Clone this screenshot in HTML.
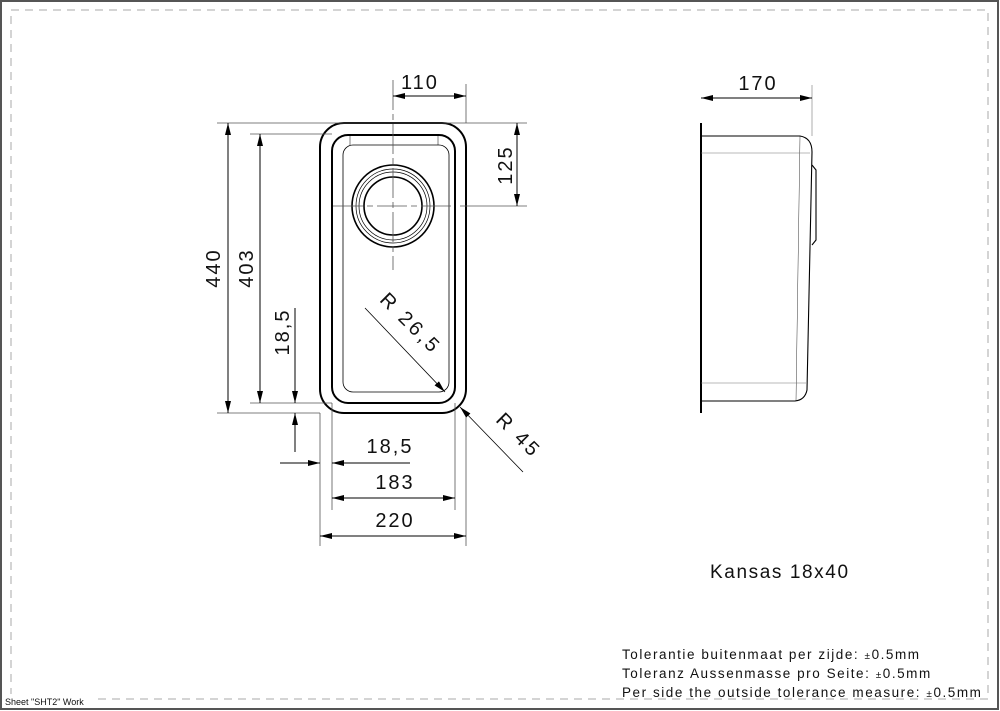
<!DOCTYPE html>
<html><head><meta charset="utf-8"><style>
html,body{margin:0;padding:0;background:#fff;}
svg{display:block;}
text{font-family:"Liberation Sans",sans-serif;fill:#111;}
</style></head><body>
<svg width="1000" height="711" viewBox="0 0 1000 711" xmlns="http://www.w3.org/2000/svg">
<defs>
<marker id="a" viewBox="0 0 12 6" refX="12" refY="3" markerWidth="12" markerHeight="6" orient="auto-start-reverse" markerUnits="userSpaceOnUse"><path d="M0,0 L12,3 L0,6 z" fill="#000"/></marker>
</defs>
<rect x="1" y="1" width="997" height="708" fill="none" stroke="#555" stroke-width="2"/>
<rect x="11" y="10" width="977" height="689" fill="none" stroke="#aaa" stroke-width="1" stroke-dasharray="8,6"/>
<rect x="4" y="694" width="92" height="12" fill="#fff"/>
<text x="5" y="705" font-size="9">Sheet "SHT2" Work</text>

<g fill="none" stroke="#000">
<rect x="320" y="123" width="146" height="290" rx="24" stroke-width="2"/>
<rect x="332" y="135" width="123" height="268" rx="16" stroke-width="2"/>
<rect x="343" y="145" width="106" height="247" rx="10" stroke-width="0.8"/>
<line x1="350" y1="135" x2="350" y2="145" stroke-width="0.5"/>
<line x1="438" y1="135" x2="438" y2="145" stroke-width="0.5"/>
<circle cx="393" cy="206" r="41" stroke-width="1.6"/>
<circle cx="393" cy="206" r="37" stroke-width="0.7"/>
<circle cx="393" cy="206" r="34" stroke-width="0.7"/>
<circle cx="393" cy="206" r="29" stroke-width="1.6"/>
</g>
<g stroke="#555" stroke-width="0.8" fill="none">
<line x1="393" y1="80" x2="393" y2="270" stroke-dasharray="30,4,6,4"/>
<line x1="333" y1="206" x2="455" y2="206" stroke-dasharray="30,4,6,4"/>
<line x1="466" y1="84" x2="466" y2="123"/>
<line x1="460" y1="206" x2="527" y2="206"/>
<line x1="217" y1="123" x2="527" y2="123"/>
<line x1="217" y1="413" x2="320" y2="413"/>
<line x1="250" y1="134" x2="332" y2="134"/>
<line x1="250" y1="403" x2="332" y2="403"/>
<line x1="320" y1="413" x2="320" y2="546"/>
<line x1="332" y1="403" x2="332" y2="510"/>
<line x1="455" y1="403" x2="455" y2="510"/>
<line x1="466" y1="413" x2="466" y2="546"/>
</g>
<g stroke="#000" stroke-width="1" fill="none">
<line x1="393" y1="96" x2="466" y2="96" marker-start="url(#a)" marker-end="url(#a)"/>
<line x1="517" y1="123" x2="517" y2="206" marker-start="url(#a)" marker-end="url(#a)"/>
<line x1="228" y1="123" x2="228" y2="413" marker-start="url(#a)" marker-end="url(#a)"/>
<line x1="260" y1="134" x2="260" y2="403" marker-start="url(#a)" marker-end="url(#a)"/>
<line x1="295" y1="308" x2="295" y2="403" marker-end="url(#a)"/>
<line x1="295" y1="452" x2="295" y2="413" marker-end="url(#a)"/>
<line x1="280" y1="463" x2="320" y2="463" marker-end="url(#a)"/>
<line x1="410" y1="463" x2="332" y2="463" marker-end="url(#a)"/>
<line x1="332" y1="498" x2="455" y2="498" marker-start="url(#a)" marker-end="url(#a)"/>
<line x1="320" y1="536" x2="466" y2="536" marker-start="url(#a)" marker-end="url(#a)"/>
<line x1="365" y1="308" x2="445" y2="392" stroke-width="0.8" marker-end="url(#a)"/>
<line x1="523" y1="472" x2="460" y2="407" stroke-width="0.8" marker-end="url(#a)"/>
</g>
<g font-size="20" letter-spacing="2">
<text x="420" y="89" text-anchor="middle">110</text>
<text transform="translate(512,165) rotate(-90)" text-anchor="middle">125</text>
<text transform="translate(220,268) rotate(-90)" text-anchor="middle">440</text>
<text transform="translate(253,268) rotate(-90)" text-anchor="middle">403</text>
<text transform="translate(289,332) rotate(-90)" text-anchor="middle">18,5</text>
<text x="390" y="453" text-anchor="middle">18,5</text>
<text x="395" y="489" text-anchor="middle">183</text>
<text x="395" y="527" text-anchor="middle">220</text>
<text transform="translate(406,328) rotate(45)" text-anchor="middle" letter-spacing="3">R 26,5</text>
<text transform="translate(514,440) rotate(45)" text-anchor="middle" letter-spacing="3">R 45</text>
<text x="758" y="90" text-anchor="middle">170</text>
</g>

<g stroke="#000" fill="none">
<line x1="701" y1="123" x2="701" y2="413" stroke-width="2"/>
<path d="M701,136 L800,136 Q812,138 812,152 L807,390 Q805,400 795,401 L701,401" stroke-width="1.1"/>
<path d="M812,165 L816,170 L816,240 L812,245" stroke-width="1.1"/>
<line x1="800" y1="136" x2="796" y2="401" stroke-width="0.4"/>
</g>
<g stroke="#777" stroke-width="0.6">
<line x1="701" y1="153" x2="810" y2="153"/>
<line x1="701" y1="383" x2="806" y2="383"/>
<line x1="812" y1="85" x2="812" y2="136"/>
</g>
<line x1="701" y1="98" x2="812" y2="98" stroke="#000" stroke-width="1" marker-start="url(#a)" marker-end="url(#a)"/>

<text x="710" y="578" font-size="19" letter-spacing="1.6">Kansas 18x40</text>
<g font-size="13.5" letter-spacing="1.55">
<text x="622" y="659">Tolerantie buitenmaat per zijde: <tspan font-size="10">±</tspan>0.5mm</text>
<text x="622" y="678">Toleranz Aussenmasse pro Seite: <tspan font-size="10">±</tspan>0.5mm</text>
<text x="622" y="697">Per side the outside tolerance measure: <tspan font-size="10">±</tspan>0.5mm</text>
</g>
</svg>
</body></html>
